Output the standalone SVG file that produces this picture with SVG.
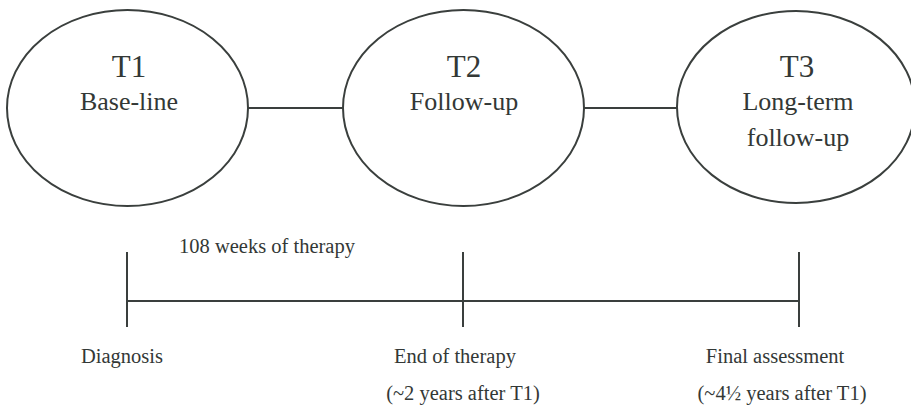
<svg xmlns="http://www.w3.org/2000/svg" width="911" height="405" viewBox="0 0 911 405">
<style>
.node{fill:none;stroke:#3a3f3d;stroke-width:2}
.ln{stroke:#3a3f3d;stroke-width:2;fill:none}
text{font-family:"Liberation Serif","Times New Roman",serif;fill:#333836;text-anchor:middle}
.big{font-size:31px}
.mid{font-size:26px}
.sm{font-size:20.5px}
</style>
<rect width="911" height="405" fill="#ffffff"/>
<g id="connectors">
<line class="ln" x1="248" y1="108" x2="343" y2="108"/>
<line class="ln" x1="584" y1="108" x2="677" y2="108"/>
</g>
<g id="T1">
<ellipse class="node" cx="127.5" cy="108" rx="120.5" ry="98"/>
<text class="big" x="129" y="77">T1</text>
<text class="mid" x="129" y="110">Base-line</text>
</g>
<g id="T2">
<ellipse class="node" cx="463.5" cy="108" rx="120.5" ry="98"/>
<text class="big" x="464" y="77">T2</text>
<text class="mid" x="464" y="110">Follow-up</text>
</g>
<g id="T3">
<ellipse class="node" cx="796" cy="107" rx="119" ry="96"/>
<text class="big" x="797" y="77">T3</text>
<text class="mid" x="798" y="110">Long-term</text>
<text class="mid" x="798" y="146">follow-up</text>
</g>
<g id="timeline">
<line class="ln" x1="127" y1="301" x2="799" y2="301"/>
<line class="ln" x1="127" y1="252" x2="127" y2="327"/>
<line class="ln" x1="463" y1="252" x2="463" y2="327"/>
<line class="ln" x1="799" y1="252" x2="799" y2="327"/>
<text class="sm" x="267" y="253">108 weeks of therapy</text>
<text class="sm" x="122" y="363">Diagnosis</text>
<text class="sm" x="455" y="363">End of therapy</text>
<text class="sm" x="463" y="400">(~2 years after T1)</text>
<text class="sm" x="775" y="363">Final assessment</text>
<text class="sm" x="782" y="400">(~4½ years after T1)</text>
</g>
</svg>
